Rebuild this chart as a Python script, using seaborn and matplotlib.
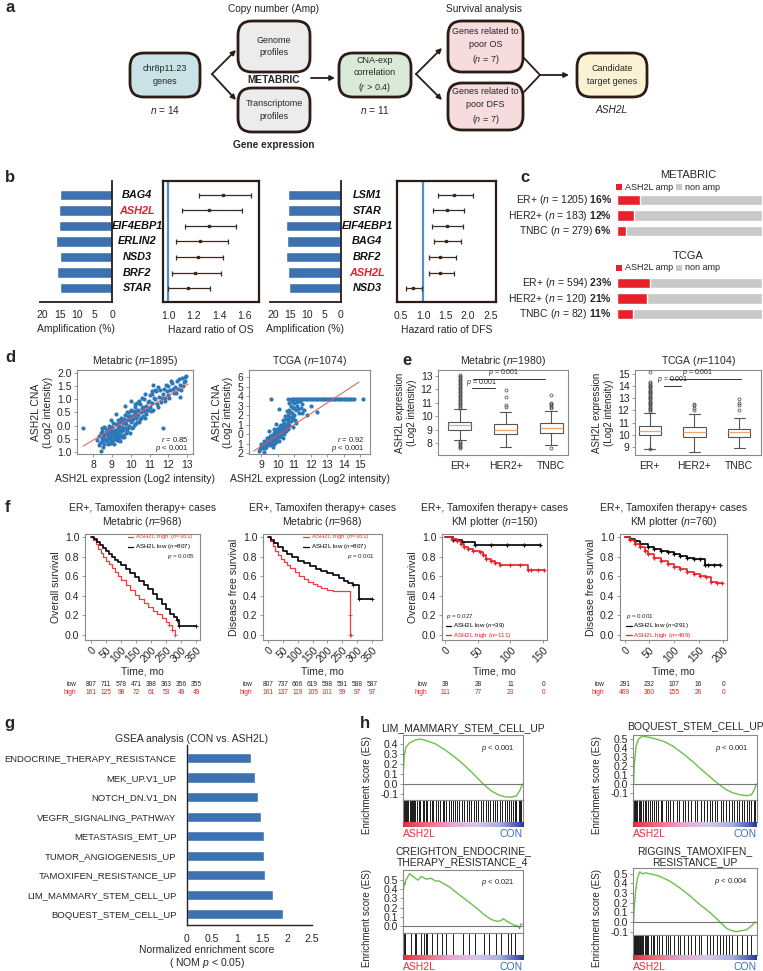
import numpy as np
import pandas as pd
import matplotlib
matplotlib.use('Agg')
import matplotlib.pyplot as plt
import seaborn as sns
from matplotlib.patches import FancyBboxPatch, Rectangle
from matplotlib.colors import LinearSegmentedColormap
from matplotlib.transforms import blended_transform_factory

# ---------------- data ----------------
# b : forest plots
os_genes = ['BAG4', 'ASH2L', 'EIF4EBP1', 'ERLIN2', 'NSD3', 'BRF2', 'STAR']
os_amp = [15.0, 15.1, 15.3, 16.0, 14.8, 15.6, 15.0]
os_hr = [1.43, 1.32, 1.32, 1.25, 1.23, 1.21, 1.155]
os_lo = [1.24, 1.11, 1.13, 1.065, 1.06, 1.03, 1.0]
os_hi = [1.645, 1.58, 1.53, 1.47, 1.43, 1.41, 1.33]
dfs_genes = ['LSM1', 'STAR', 'EIF4EBP1', 'BAG4', 'BRF2', 'ASH2L', 'NSD3']
dfs_amp = [15.6, 15.5, 16.2, 16.0, 16.2, 15.5, 15.3]
dfs_hr = [1.69, 1.53, 1.53, 1.51, 1.38, 1.38, 0.77]
dfs_lo = [1.33, 1.22, 1.2, 1.24, 1.13, 1.13, 0.61]
dfs_hi = [2.12, 1.92, 1.9, 1.85, 1.74, 1.69, 0.97]

# c : amplification frequency
c_groups = ['ER+', 'HER2+', 'TNBC']
c_meta_n = [1205, 183, 279]
c_meta_pct = [16, 12, 6]
c_tcga_n = [594, 120, 82]
c_tcga_pct = [23, 21, 11]

# d : CNA vs expression
meta_x = [8.2, 8.3, 8.35, 8.4, 8.45, 8.5, 8.5, 8.55, 8.6, 8.6, 8.65, 8.7, 8.7, 8.75, 8.8, 8.8, 8.85, 8.9, 8.9, 8.95,
          9.0, 9.0, 9.0, 9.05, 9.1, 9.1, 9.15, 9.2, 9.2, 9.25, 9.3, 9.3, 9.35, 9.4, 9.4, 9.45, 9.5, 9.5, 9.55, 9.6,
          9.6, 9.65, 9.7, 9.7, 9.75, 9.8, 9.8, 9.85, 9.9, 9.9, 10.0, 10.0, 10.05, 10.1, 10.1, 10.2, 10.2, 10.25, 10.3, 10.35,
          10.4, 10.4, 10.5, 10.5, 10.55, 10.6, 10.65, 10.7, 10.7, 10.8, 10.8, 10.9, 10.9, 11.0, 11.0, 11.1, 11.15, 11.2, 11.3, 11.35,
          11.4, 11.5, 11.55, 11.6, 11.7, 11.75, 11.8, 11.9, 12.0, 12.0, 12.1, 12.2, 12.3, 12.35, 12.45, 12.5, 12.6, 12.7, 12.75, 12.85,
          12.9, 11.8, 11.3, 10.0, 9.7, 7.45, 8.4, 11.7, 12.6, 11.2, 9.2, 8.6, 8.9, 9.3, 9.55, 9.05, 8.75, 9.45, 9.15, 8.95]
meta_y = [-0.55, -0.4, -0.65, -0.3, -0.5, -0.2, -0.6, -0.45, -0.35, -0.7, -0.1, -0.5, -0.25, -0.6, -0.4, -0.15, 0.0, -0.5, -0.3, -0.2,
          -0.6, -0.4, -0.05, 0.1, -0.3, -0.5, -0.15, 0.05, -0.4, -0.25, 0.2, -0.1, -0.45, 0.0, -0.3, 0.15, -0.2, 0.3, -0.05, 0.1,
          -0.35, 0.25, -0.1, 0.4, 0.05, 0.2, -0.2, 0.35, 0.0, 0.5, 0.15, 0.35, -0.1, 0.55, 0.25, 0.05, 0.45, 0.7, 0.3, 0.15,
          0.6, 0.4, 0.25, 0.8, 0.5, 0.65, 0.35, 1.0, 0.55, 0.75, 0.45, 0.9, 0.6, 0.7, 1.15, 0.85, 1.2, 0.6, 1.0, 1.3,
          0.8, 1.1, 1.35, 0.9, 1.2, 1.4, 1.05, 1.3, 1.15, 1.5, 1.35, 1.6, 1.25, 1.45, 1.7, 1.4, 1.55, 1.8, 1.5, 1.85,
          1.7, 0.95, 1.35, 0.95, 0.75, -0.1, -0.95, -0.1, 1.1, 1.55, 0.45, -0.05, -0.65, -0.55, -0.45, -0.2, -0.3, -0.6, -0.35, 0.2]
meta_x_more = [8.3, 8.45, 8.55, 8.65, 8.75, 8.8, 8.85, 8.9, 8.95, 9.05, 9.1, 9.15, 9.2, 9.25, 9.3, 9.35, 9.4, 9.45, 9.5, 9.55,
               9.6, 9.65, 9.7, 9.75, 9.8, 9.85, 9.9, 9.95, 10.0, 10.05, 10.1, 10.15, 10.2, 10.25, 10.3, 10.35, 10.45, 10.45,
               10.55, 10.6, 10.65, 10.75, 10.75, 10.85, 10.95, 11.05, 11.1, 11.25, 11.45, 11.45, 11.65, 11.85, 12.05,
               12.15, 12.25, 12.4, 12.55, 12.65, 12.8, 12.95]
meta_y_more = [-0.75, -0.1, -0.8, -0.55, -0.3, -0.7, -0.45, -0.1, -0.65, -0.35, -0.7, -0.5, -0.2, -0.55, -0.35, 0.05, -0.55,
               -0.15, -0.4, 0.2, -0.15, -0.45, 0.1, -0.3, 0.5, -0.1, 0.25, -0.3, 0.6, 0.2, -0.05, 0.4, 0.8, 0.05, 0.55, 0.85,
               0.15, 0.95, 0.3, 1.05, 0.7, 0.3, 1.2, 0.6, 0.95, 0.55, 1.3, 1.05, 0.7, 1.45, 1.05, 1.55, 1.05, 1.7, 1.4, 1.25,
               1.75, 1.35, 1.65, 1.9]
meta_fit_x = [7.47, 13.05]
meta_fit_y = [-0.78, 1.58]
tcga_x = [8.9, 9.0, 9.1, 9.15, 9.2, 9.3, 9.3, 9.4, 9.45, 9.5, 9.55, 9.6, 9.65, 9.7, 9.75, 9.8, 9.85, 9.9, 9.95, 10.0,
          10.0, 10.05, 10.1, 10.15, 10.2, 10.25, 10.3, 10.3, 10.35, 10.4, 10.4, 10.45, 10.5, 10.5, 10.55, 10.6, 10.6, 10.65, 10.7, 10.7,
          10.75, 10.8, 10.8, 10.85, 10.9, 10.9, 10.95, 11.0, 11.0, 11.1, 11.1, 11.2, 11.3, 11.4, 11.5, 11.6, 12.0, 11.8,
          9.2, 8.85, 9.6, 9.5, 10.1, 9.9, 12.4, 15.2, 9.1, 9.35, 9.7, 9.8, 10.2,
          10.6, 10.8, 10.9, 11.0, 11.1, 11.2, 11.3, 11.4, 11.5, 11.6, 11.7, 11.8, 11.9, 12.0, 12.1, 12.2, 12.3, 12.4, 12.5, 12.6,
          12.7, 12.8, 12.9, 13.0, 13.1, 13.2, 13.3, 13.4, 13.5, 13.6, 13.7, 13.8, 13.9, 14.0, 14.1, 14.2, 14.3, 14.4, 14.5, 14.6]
tcga_y = [-1.6, -1.3, -1.5, -1.0, -1.2, -0.8, -1.4, -1.0, -0.6, -0.9, -1.2, -0.5, -0.8, -0.3, -0.6, -1.0, -0.2, -0.5, 0.0, -0.3,
          0.3, -0.7, 0.1, 0.5, -0.2, 0.2, 0.8, -0.4, 0.4, 1.2, 0.0, 0.6, 1.6, 0.3, 0.9, 2.0, 1.3, 0.5, 2.5, 1.0,
          1.8, 3.0, 1.4, 2.2, 0.8, 2.8, 1.6, 3.3, 2.0, 2.5, 1.2, 3.0, 2.2, 2.8, 3.2, 2.5, 3.0, 2.0,
          -1.9, -1.8, 3.7, 0.3, 2.6, 1.1, 2.3, 3.7, -1.1, -0.4, -1.4, 0.5, 1.0,
          3.7, 3.7, 3.7, 3.7, 3.7, 3.7, 3.7, 3.7, 3.7, 3.7, 3.7, 3.7, 3.7, 3.7, 3.7, 3.7, 3.7, 3.7, 3.7, 3.7,
          3.7, 3.7, 3.7, 3.7, 3.7, 3.7, 3.7, 3.7, 3.7, 3.7, 3.7, 3.7, 3.7, 3.7, 3.7, 3.7, 3.7, 3.7, 3.7, 3.7]
tcga_x_more = [9.0, 9.1, 9.2, 9.25, 9.35, 9.4, 9.5, 9.55, 9.6, 9.65, 9.7, 9.75, 9.8, 9.85, 9.9, 9.95, 10.0, 10.05, 10.1,
               10.15, 10.2, 10.25, 10.3, 10.35, 10.4, 10.45, 10.5, 10.55, 10.6, 10.65, 10.7, 10.75, 10.85, 10.9, 11.0,
               11.05, 11.15, 11.25, 11.35, 11.45]
tcga_y_more = [-1.0, -1.2, -0.7, -1.5, -1.1, -0.4, -0.6, -0.2, -1.0, -0.1, -0.7, 0.1, -0.4, 0.3, -0.8, 0.5, 0.0, 0.6, -0.3,
               0.9, 0.3, 1.0, 0.1, 1.5, 0.7, 1.9, 1.0, 2.4, 0.8, 1.6, 3.3, 2.3, 3.5, 1.9, 2.7, 1.5, 3.4, 2.6, 3.5, 2.2]
tcga_fit_x = [8.54, 14.94]
tcga_fit_y = [-1.8, 5.5]

# e : expression by subtype (box summaries)
e_groups = ['ER+', 'HER2+', 'TNBC']
e_meta_med = [9.34, 8.97, 9.1]
e_meta_q1 = [9.0, 8.67, 8.75]
e_meta_q3 = [9.59, 9.4, 9.5]
e_meta_lo = [8.2, 7.7, 7.85]
e_meta_hi = [10.5, 10.3, 10.4]
e_meta_fliers = [[10.6, 10.7, 10.8, 10.9, 11.0, 11.1, 11.2, 11.3, 11.4, 11.5, 11.6, 11.7, 11.8, 11.9, 12.0, 12.1,
                  12.2, 12.3, 12.4, 12.5, 12.6, 12.7, 12.8, 12.9, 13.0, 13.1, 7.6, 7.7, 7.8, 7.9, 8.0, 8.1],
                 [11.95, 11.45, 10.8, 10.65],
                 [10.6, 10.7, 10.8, 10.9, 11.0, 11.6, 7.6]]
e_tcga_med = [10.3, 10.2, 10.2]
e_tcga_q1 = [10.0, 9.8, 9.8]
e_tcga_q3 = [10.75, 10.6, 10.5]
e_tcga_lo = [8.85, 8.6, 8.9]
e_tcga_hi = [11.8, 11.7, 11.4]
e_tcga_fliers = [[11.9, 12.0, 12.1, 12.2, 12.3, 12.4, 12.5, 12.6, 12.7, 12.8, 12.9, 13.0, 13.1, 13.2, 13.3, 13.4,
                  13.5, 13.6, 13.7, 13.8, 13.9, 14.0, 14.1, 14.2, 14.3, 15.1, 8.85],
                 [12.0, 12.2, 12.4, 12.5],
                 [12.0, 12.4, 12.6, 12.9]]

# f : Kaplan-Meier curves (time, survival)
km1_low_t = [0, 10, 20, 30, 40, 50, 60, 70, 80, 90, 100, 115, 130, 145, 160, 175, 190, 205, 220, 235, 250, 262, 275, 285, 292, 350]
km1_low_s = [1.0, 0.98, 0.95, 0.92, 0.89, 0.86, 0.83, 0.8, 0.77, 0.74, 0.71, 0.67, 0.63, 0.59, 0.55, 0.51, 0.47, 0.42, 0.37, 0.32, 0.27, 0.22, 0.18, 0.15, 0.09, 0.09]
km1_high_t = [0, 8, 16, 24, 32, 40, 50, 60, 70, 80, 90, 100, 115, 130, 145, 160, 175, 190, 205, 220, 235, 250, 260, 270, 278]
km1_high_s = [1.0, 0.97, 0.93, 0.88, 0.84, 0.8, 0.76, 0.72, 0.68, 0.64, 0.6, 0.56, 0.51, 0.46, 0.41, 0.37, 0.33, 0.29, 0.25, 0.21, 0.17, 0.13, 0.1, 0.05, 0.0]
km2_low_t = [0, 10, 20, 35, 50, 65, 80, 100, 120, 140, 160, 180, 200, 220, 240, 255, 270, 285, 305, 350]
km2_low_s = [1.0, 0.97, 0.94, 0.9, 0.86, 0.83, 0.8, 0.76, 0.73, 0.7, 0.67, 0.65, 0.63, 0.61, 0.58, 0.55, 0.53, 0.51, 0.37, 0.37]
km2_high_t = [0, 8, 16, 25, 35, 45, 55, 65, 75, 90, 105, 120, 135, 150, 165, 180, 200, 220, 275, 277, 280]
km2_high_s = [1.0, 0.96, 0.91, 0.86, 0.82, 0.78, 0.74, 0.71, 0.68, 0.64, 0.6, 0.57, 0.54, 0.52, 0.5, 0.48, 0.46, 0.45, 0.2, 0.0, 0.0]
km3_low_t = [0, 12, 25, 45, 70, 95, 120, 145]
km3_low_s = [1.0, 0.97, 0.95, 0.92, 0.92, 0.92, 0.92, 0.92]
km3_high_t = [0, 10, 18, 24, 28, 35, 43, 53, 58, 63, 70, 76, 84, 100, 115, 127, 132, 142, 152]
km3_high_s = [1.0, 0.98, 0.96, 0.93, 0.9, 0.88, 0.86, 0.85, 0.82, 0.78, 0.75, 0.73, 0.71, 0.71, 0.71, 0.66, 0.66, 0.66, 0.66]
km4_low_t = [0, 10, 20, 30, 47, 60, 73, 87, 100, 113, 127, 140, 152, 163, 170, 182, 193]
km4_low_s = [1.0, 0.98, 0.96, 0.93, 0.9, 0.88, 0.86, 0.85, 0.83, 0.81, 0.79, 0.78, 0.78, 0.71, 0.71, 0.71, 0.71]
km4_high_t = [0, 10, 20, 30, 40, 47, 60, 73, 87, 100, 113, 127, 140, 153, 165, 175, 187, 197]
km4_high_s = [1.0, 0.97, 0.93, 0.9, 0.86, 0.83, 0.79, 0.76, 0.72, 0.69, 0.67, 0.64, 0.62, 0.6, 0.59, 0.54, 0.53, 0.53]
risk1_low = [807, 711, 578, 471, 398, 363, 356, 355]
risk1_high = [161, 125, 98, 72, 61, 53, 49, 49]
risk2_low = [807, 737, 666, 619, 598, 591, 588, 587]
risk2_high = [161, 137, 119, 105, 101, 99, 97, 97]
risk3_low = [39, 28, 11, 0]
risk3_high = [111, 77, 23, 0]
risk4_low = [291, 232, 107, 16, 0]
risk4_high = [469, 360, 155, 26, 0]

# g : GSEA NES
g_sets = ['ENDOCRINE_THERAPY_RESISTANCE', 'MEK_UP.V1_UP', 'NOTCH_DN.V1_DN', 'VEGFR_SIGNALING_PATHWAY',
          'METASTASIS_EMT_UP', 'TUMOR_ANGIOGENESIS_UP', 'TAMOXIFEN_RESISTANCE_UP',
          'LIM_MAMMARY_STEM_CELL_UP', 'BOQUEST_STEM_CELL_UP']
g_nes = [1.28, 1.36, 1.42, 1.48, 1.54, 1.54, 1.56, 1.72, 1.92]

# h : running enrichment scores and hits
lim_x = [0, 0.005, 0.02, 0.05, 0.1, 0.14, 0.2, 0.27, 0.35, 0.43, 0.5, 0.58, 0.67, 0.74, 0.8, 0.86, 0.91, 0.95, 0.98, 1.0]
lim_y = [0.15, 0.28, 0.37, 0.41, 0.44, 0.45, 0.43, 0.4, 0.34, 0.27, 0.2, 0.11, 0.0, -0.07, -0.11, -0.13, -0.13, -0.12, -0.06, 0.0]
boq_x = [0, 0.005, 0.02, 0.04, 0.07, 0.12, 0.18, 0.25, 0.32, 0.4, 0.48, 0.56, 0.63, 0.69, 0.75, 0.81, 0.87, 0.92, 0.96, 0.985, 1.0]
boq_y = [0.0, 0.2, 0.42, 0.5, 0.53, 0.52, 0.5, 0.47, 0.42, 0.34, 0.25, 0.15, 0.07, 0.0, -0.06, -0.1, -0.12, -0.13, -0.12, -0.06, 0.0]
creig_x = [0, 0.005, 0.01, 0.02, 0.05, 0.08, 0.12, 0.15, 0.19, 0.23, 0.27, 0.3, 0.38, 0.46, 0.54, 0.62, 0.68, 0.74, 0.79,
           0.82, 0.84, 0.87, 0.9, 0.93, 0.96, 0.975, 0.985, 1.0]
creig_y = [0.4, 0.47, 0.45, 0.5, 0.57, 0.54, 0.5, 0.54, 0.51, 0.52, 0.49, 0.49, 0.43, 0.35, 0.27, 0.19, 0.12, 0.07, 0.05,
           0.06, 0.08, 0.05, 0.03, 0.01, 0.0, -0.03, 0.02, 0.02]
rig_x = [0, 0.005, 0.015, 0.03, 0.05, 0.07, 0.1, 0.13, 0.17, 0.22, 0.3, 0.38, 0.46, 0.54, 0.62, 0.68, 0.72, 0.76, 0.8,
         0.84, 0.88, 0.92, 0.95, 0.97, 0.985, 1.0]
rig_y = [0.0, 0.15, 0.3, 0.45, 0.52, 0.5, 0.51, 0.5, 0.49, 0.47, 0.42, 0.35, 0.27, 0.18, 0.1, 0.03, -0.02, -0.07, -0.09,
         -0.1, -0.09, -0.08, -0.05, -0.03, 0.0, -0.01]
lim_hits = [0.0, 0.01, 0.02, 0.03, 0.04, 0.05, 0.06, 0.07, 0.08, 0.09, 0.1, 0.11, 0.13, 0.14, 0.16, 0.17, 0.19, 0.2, 0.22, 0.24,
            0.25, 0.27, 0.29, 0.31, 0.33, 0.34, 0.36, 0.38, 0.4, 0.42, 0.43, 0.45, 0.47, 0.49, 0.51, 0.53, 0.55, 0.57, 0.59,
            0.61, 0.63, 0.65, 0.67, 0.69, 0.71, 0.73, 0.75, 0.77, 0.79, 0.81, 0.83, 0.85, 0.87, 0.89, 0.9, 0.92, 0.94, 0.95,
            0.97, 0.98, 0.99]
boq_hits = [0.0, 0.01, 0.015, 0.02, 0.03, 0.04, 0.05, 0.06, 0.08, 0.09, 0.1, 0.12, 0.13, 0.15, 0.17, 0.18, 0.2, 0.22, 0.23,
            0.26, 0.28, 0.3, 0.32, 0.35, 0.37, 0.4, 0.42, 0.44, 0.47, 0.5, 0.52, 0.55, 0.57, 0.6, 0.62, 0.64, 0.66, 0.68,
            0.71, 0.73, 0.75, 0.78, 0.8, 0.82, 0.84, 0.86, 0.88, 0.9, 0.92, 0.94, 0.96, 0.98, 0.99]
creig_hits = [0.005, 0.01, 0.015, 0.06, 0.1, 0.105, 0.15, 0.17, 0.19, 0.2, 0.24, 0.28, 0.32, 0.36, 0.42, 0.5, 0.55, 0.6,
              0.68, 0.72, 0.78, 0.82, 0.88, 0.9, 0.94]
rig_hits = [0.0, 0.005, 0.01, 0.015, 0.02, 0.025, 0.03, 0.035, 0.04, 0.05, 0.055, 0.06, 0.07, 0.08, 0.09, 0.1, 0.11, 0.12,
            0.14, 0.16, 0.17, 0.19, 0.21, 0.23, 0.26, 0.28, 0.3, 0.33, 0.36, 0.38, 0.41, 0.44, 0.47, 0.5, 0.53, 0.55, 0.6,
            0.62, 0.65, 0.68, 0.7, 0.73, 0.75, 0.78, 0.8, 0.84, 0.88, 0.92, 0.96]

# ---------------- style ----------------
sns.set_style('white')
plt.rcParams['font.family'] = ['Liberation Sans', 'DejaVu Sans']
plt.rcParams['mathtext.fontset'] = 'custom'
plt.rcParams['mathtext.rm'] = 'Liberation Sans'
plt.rcParams['mathtext.it'] = 'Liberation Sans:italic'
plt.rcParams['mathtext.bf'] = 'Liberation Sans:bold'
plt.rcParams['axes.unicode_minus'] = False

DARK = '#2b1d16'
BARBLUE = '#3d72b0'
RED = '#e8202a'
GRAYAX = '#8a8a8a'

W, H = 763, 971
fig = plt.figure(figsize=(W / 100, H / 100), dpi=100)


def px_ax(x0, y0, x1, y1):
    return fig.add_axes([x0 / W, 1 - y1 / H, (x1 - x0) / W, (y1 - y0) / H])


def ftext(x, y, s, **kw):
    fig.text(x / W, 1 - y / H, s, **kw)


def gray_frame(ax, lw=0.8):
    for s in ax.spines.values():
        s.set_visible(True)
        s.set_color(GRAYAX)
        s.set_linewidth(lw)
    ax.tick_params(length=2, width=0.6, color=GRAYAX, labelsize=7.5, pad=2,
                   bottom=True, left=True)


# panel letters
for lab, x, y in [('a', 5, 8), ('b', 5, 177), ('c', 520, 177), ('d', 5, 358), ('e', 402, 360),
                  ('f', 5, 507), ('g', 4, 723), ('h', 360, 723)]:
    ftext(x, y, lab, fontsize=12, fontweight='bold', va='center')

# ---------------- a : flow chart ----------------
ax = px_ax(0, 0, W, 160)
ax.set_xlim(0, W)
ax.set_ylim(160, 0)
ax.axis('off')


def rbox(x0, y0, x1, y1, fc, txt):
    ax.add_patch(FancyBboxPatch((x0, y0), x1 - x0, y1 - y0, boxstyle='round,pad=0,rounding_size=14',
                                fc=fc, ec=DARK, lw=2))
    ax.text((x0 + x1) / 2, (y0 + y1) / 2, txt, ha='center', va='center', fontsize=6.5,
            linespacing=1.45)


rbox(130, 53, 200, 97, '#c8e2e6', 'chr8p11.23\ngenes')
rbox(238, 21, 310, 72, '#ececec', 'Genome\nprofiles')
rbox(238, 88, 310, 132, '#ececec', 'Transcriptome\nprofiles')
rbox(339, 53, 411, 97, '#d9ebd8', 'CNA-exp\ncorrelation\n($\\it{r}$ > 0.4)')
rbox(448, 21, 523, 72, '#f6dcdc', 'Genes related to\npoor OS\n($\\it{n}$ = 7)')
rbox(448, 83, 523, 130, '#f6dcdc', 'Genes related to\npoor DFS\n($\\it{n}$ = 7)')
rbox(577, 53, 647, 97, '#fbf2d4', 'Candidate\ntarget genes')
for x, y, s, kw in [(274, 9, 'Copy number (Amp)', {}), (484, 9, 'Survival analysis', {}),
                    (274, 80, 'METABRIC', {'fontweight': 'bold'}), (274, 145, 'Gene expression', {'fontweight': 'bold'}),
                    (165, 110, '$\\it{n}$ = 14', {}), (375, 110, '$\\it{n}$ = 11', {}),
                    (612, 110, 'ASH2L', {'style': 'italic'})]:
    ax.text(x, y, s, ha='center', va='center', fontsize=7.3, **kw)
arrow = dict(arrowstyle='-|>', color=DARK, lw=1.3, mutation_scale=7, shrinkA=0, shrinkB=0)
for (xs, ys), (xe, ye) in [((212, 74), (236, 50)), ((212, 74), (236, 100)), ((311, 78), (335, 78)),
                           ((416, 74), (442, 48)), ((416, 74), (442, 100)), ((540, 75), (569, 75))]:
    ax.annotate('', xy=(xe, ye), xytext=(xs, ys), arrowprops=arrow)
ax.plot([523, 540, 523], [57, 75, 93], color=DARK, lw=1.3)

# ---------------- b : amplification + hazard ratios ----------------
row_y = [195 + 15.5 * i for i in range(7)]


def amp_axis(x0, x1, genes, amp, xmax):
    a = px_ax(x0, 181, x1, 302)
    sns.barplot(x=amp, y=genes, orient='h', color=BARBLUE, saturation=1, width=0.68, ax=a)
    a.set_xlim(xmax, 0)
    a.set_ylim(6.9, -0.9)
    a.set_yticks([])
    a.set_ylabel('')
    a.set_xticks([20, 15, 10, 5, 0])
    a.set_xticklabels(['20', '15', '10', '5', '0'], fontsize=7.5)
    a.set_xlabel('Amplification (%)', fontsize=7.5, labelpad=3)
    a.spines['top'].set_visible(False)
    a.spines['left'].set_visible(False)
    for s in ['right', 'bottom']:
        a.spines[s].set_color(DARK)
        a.spines[s].set_linewidth(1.3)
    a.tick_params(axis='x', pad=2)


def hr_axis(x0, x1, hr, lo, hi, xlim, ticks, labels, xlabel):
    a = px_ax(x0, 181, x1, 302)
    hr, lo, hi = np.array(hr), np.array(lo), np.array(hi)
    y = np.arange(len(hr))
    a.axvline(1.0, color='#4f8fd6', lw=1.6, zorder=1)
    a.errorbar(hr, y, xerr=[hr - lo, hi - hr], fmt='s', ms=2, color='#3a2a22', elinewidth=0.9,
               capsize=1.8, capthick=0.9, zorder=3)
    a.set_xlim(*xlim)
    a.set_ylim(6.9, -0.9)
    a.set_yticks([])
    a.set_xticks(ticks)
    a.set_xticklabels(labels, fontsize=7.5)
    a.set_xlabel(xlabel, fontsize=7.5, labelpad=3)
    a.tick_params(axis='x', pad=3)
    for s in a.spines.values():
        s.set_color(DARK)
        s.set_linewidth(1.6)


amp_axis(40, 112, os_genes, os_amp, 20.6)
hr_axis(163, 259, os_hr, os_lo, os_hi, (0.96, 1.71), [1.0, 1.2, 1.4, 1.6], ['1.0', '1.2', '1.4', '1.6'],
        'Hazard ratio of OS')
amp_axis(270, 341, dfs_genes, dfs_amp, 20.9)
hr_axis(397, 496, dfs_hr, dfs_lo, dfs_hi, (0.41, 2.63), [0.5, 1.0, 1.5, 2.0, 2.5],
        ['0.5', '1.0', '1.5', '2.0', '2.5'], 'Hazard ratio of DFS')
for genes, xc in [(os_genes, 137), (dfs_genes, 367)]:
    for g, y in zip(genes, row_y):
        ftext(xc, y, g, ha='center', va='center', fontsize=7.8, fontweight='bold', style='italic',
              color=RED if g == 'ASH2L' else '#111111')

# ---------------- c : amplification per subtype ----------------
for title, ns, pcts, ytitle, y0 in [('METABRIC', c_meta_n, c_meta_pct, 175, 193),
                                     ('TCGA', c_tcga_n, c_tcga_pct, 256, 276)]:
    ftext(688, ytitle, title, ha='center', va='center', fontsize=8)
    ly = ytitle + 12
    fig.patches.append(Rectangle((616 / W, 1 - (ly + 3) / H), 6 / W, 6 / H, transform=fig.transFigure,
                                 fc=RED, ec='none'))
    ftext(625, ly, 'ASH2L amp', va='center', fontsize=6.5)
    fig.patches.append(Rectangle((676 / W, 1 - (ly + 3) / H), 6 / W, 6 / H, transform=fig.transFigure,
                                 fc='#c8c8c8', ec='none'))
    ftext(685, ly, 'non amp', va='center', fontsize=6.5)
    a = px_ax(617, y0, 762, y0 + 45)
    sns.barplot(x=[100, 100, 100], y=c_groups, orient='h', color='#c8c8c8', saturation=1, width=0.69, ax=a)
    sns.barplot(x=pcts, y=c_groups, orient='h', color=RED, saturation=1, width=0.69, ax=a)
    a.set_xlim(0, 100)
    a.set_ylim(2.45, -0.45)
    a.axis('off')
    for i, (g, n, p) in enumerate(zip(c_groups, ns, pcts)):
        ftext(612, y0 + 7 + 15.5 * i, g + ' ($\\it{n}$ = ' + str(n) + ') $\\bf{' + str(p) + '\\%}$',
              ha='right', va='center', fontsize=7.5)

# ---------------- d : scatter ----------------
SCBLUE = '#2f78b7'
for (x0, x1), xs, ys, fx, fy, title, xlim, ylim, xt, yt, ytl, rtxt in [
        ((77, 193), meta_x + meta_x_more, meta_y + meta_y_more, meta_fit_x, meta_fit_y, 'Metabric ($\\it{n}$=1895)',
         (7.15, 13.3), (-1.08, 2.11),
         [8, 9, 10, 11, 12, 13], [-1, -0.5, 0, 0.5, 1, 1.5, 2], ['1.0', '0.5', '0.0', '0.5', '1.0', '1.5', '2.0'],
         '$\\it{r}$ = 0.85'),
        ((249, 370), tcga_x + tcga_x_more, tcga_y + tcga_y_more, tcga_fit_x, tcga_fit_y, 'TCGA ($\\it{n}$=1074)',
         (8.26, 15.6), (-2.1, 6.76),
         [9, 10, 11, 12, 13, 14, 15], [-2, -1, 0, 1, 2, 3, 4, 5, 6], ['2', '1', '0', '1', '2', '3', '4', '5', '6'],
         '$\\it{r}$ = 0.92')]:
    a = px_ax(x0, 370, x1, 454)
    sns.scatterplot(x=xs, y=ys, s=9, color=SCBLUE, linewidth=0, ax=a)
    sns.lineplot(x=fx, y=fy, color='#f05050', lw=0.7, ax=a)
    a.set_xlim(*xlim)
    a.set_ylim(*ylim)
    a.set_xticks(xt)
    a.set_xticklabels([str(v) for v in xt])
    a.set_yticks(yt)
    a.set_yticklabels(ytl)
    gray_frame(a)
    a.set_xlabel('ASH2L expression (Log2 intensity)', fontsize=7.5, labelpad=3)
    a.set_ylabel('ASH2L CNA\n(Log2 intensity)', fontsize=7.5, labelpad=3)
    a.set_title(title, fontsize=7.5, pad=4)
    a.text(0.96, 0.17, rtxt, transform=a.transAxes, ha='right', va='center', fontsize=5.5)
    a.text(0.96, 0.07, '$\\it{p}$ < 0.001', transform=a.transAxes, ha='right', va='center', fontsize=5.5)

# ---------------- e : box plots ----------------
for (x0, x1), med, q1, q3, lo, hi, fl, title, xlim, ylim, yt, brackets in [
        ((438, 568), e_meta_med, e_meta_q1, e_meta_q3, e_meta_lo, e_meta_hi, e_meta_fliers,
         'Metabric ($\\it{n}$=1980)', (-0.48, 2.37), (7.1, 13.45), [8, 9, 10, 11, 12, 13],
         [(0.29, 1.87, 12.8, 0.95), (0.26, 0.77, 12.1, 0.48)]),
        ((635, 761), e_tcga_med, e_tcga_q1, e_tcga_q3, e_tcga_lo, e_tcga_hi, e_tcga_fliers,
         'TCGA ($\\it{n}$=1104)', (-0.33, 2.49), (8.35, 15.3), [9, 10, 11, 12, 13, 14, 15],
         [(0.44, 2.04, 14.6, 1.07), (0.33, 0.71, 14.0, 0.51)])]:
    a = px_ax(x0, 370, x1, 455)
    stats = [dict(med=m, q1=a1, q3=a3, whislo=l, whishi=h, fliers=f, label=g)
             for m, a1, a3, l, h, f, g in zip(med, q1, q3, lo, hi, fl, e_groups)]
    a.bxp(stats, positions=[0, 1, 2], widths=0.5, patch_artist=True,
          boxprops=dict(facecolor='white', edgecolor='#555555', lw=0.8),
          medianprops=dict(color='#f2a46a', lw=0.9),
          whiskerprops=dict(color='#555555', lw=0.8),
          capprops=dict(color='#555555', lw=0.8),
          flierprops=dict(marker='o', ms=2.2, mfc='none', mec='#444444', mew=0.5))
    a.set_xlim(*xlim)
    a.set_ylim(*ylim)
    a.set_yticks(yt)
    a.set_yticklabels([str(v) for v in yt])
    gray_frame(a)
    a.tick_params(axis='x', length=0, pad=4)
    a.set_ylabel('ASH2L expression\n(Log2 intensity)', fontsize=7, labelpad=3)
    a.set_title(title, fontsize=7.5, pad=4)
    for bx0, bx1, by, tx in brackets:
        a.plot([bx0, bx1], [by, by], color='#333333', lw=0.7)
        a.text(tx, by + 0.04, '$\\it{p}$ = 0.001', ha='center', va='bottom', fontsize=5.0)

# ---------------- f : Kaplan-Meier ----------------
KMRED = '#f03c3c'
km_specs = [
    dict(box=(85, 200), xlim=(-20, 362), ticks=[0, 50, 100, 150, 200, 250, 300, 350],
         curves=[(km1_high_t, km1_high_s, KMRED, 0.9), (km1_low_t, km1_low_s, 'black', 1.2)],
         marks=False, risk=(risk1_low, risk1_high), ylabel='Overall survival',
         title='ER+, Tamoxifen therapy+ cases\nMetabric ($\\it{n}$=968)', low_x=76,
         keys=[(0.37, 0.975, KMRED, 'ASH2L high ($\\it{n}$=161)'), (0.37, 0.88, 'black', 'ASH2L low ($\\it{n}$=807)')],
         ptxt=(0.96, 0.785, '$\\it{p}$ = 0.005')),
    dict(box=(263, 382), xlim=(-17, 384), ticks=[0, 50, 100, 150, 200, 250, 300, 350],
         curves=[(km2_high_t, km2_high_s, KMRED, 0.9), (km2_low_t, km2_low_s, 'black', 1.2)],
         marks=False, risk=(risk2_low, risk2_high), ylabel='Disease free survival',
         title='ER+, Tamoxifen therapy+ cases\nMetabric ($\\it{n}$=968)', low_x=252,
         keys=[(0.34, 0.975, KMRED, 'ASH2L high ($\\it{n}$=161)'), (0.34, 0.88, 'black', 'ASH2L low ($\\it{n}$=807)')],
         ptxt=(0.94, 0.785, '$\\it{p}$ = 0.001')),
    dict(box=(442, 547), xlim=(-5, 156), ticks=[0, 50, 100, 150],
         curves=[(km3_low_t, km3_low_s, 'black', 1.2), (km3_high_t, km3_high_s, RED, 1.2)],
         marks=True, risk=(risk3_low, risk3_high), ylabel='Overall survival',
         title='ER+, Tamoxifen therapy+ cases\nKM plotter ($\\it{n}$=150)', low_x=427,
         keys=[(0.04, 0.135, 'black', 'ASH2L low ($\\it{n}$=39)'), (0.04, 0.045, RED, 'ASH2L high ($\\it{n}$=111)')],
         ptxt=(0.04, 0.225, '$\\it{p}$ = 0.027')),
    dict(box=(620, 727), xlim=(-10, 208), ticks=[0, 50, 100, 150, 200],
         curves=[(km4_low_t, km4_low_s, 'black', 1.2), (km4_high_t, km4_high_s, RED, 1.2)],
         marks=True, risk=(risk4_low, risk4_high), ylabel='Disease free survival',
         title='ER+, Tamoxifen therapy+ cases\nKM plotter ($\\it{n}$=760)', low_x=604,
         keys=[(0.06, 0.135, 'black', 'ASH2L low ($\\it{n}$=291)'), (0.06, 0.045, RED, 'ASH2L high ($\\it{n}$=469)')],
         ptxt=(0.06, 0.225, '$\\it{p}$ = 0.001')),
]
for sp in km_specs:
    x0, x1 = sp['box']
    a = px_ax(x0, 534, x1, 640)
    for t, s, c, lw in sp['curves']:
        a.step(t, s, where='post', color=c, lw=lw)
        if sp['marks']:
            a.plot(t[1:], s[1:], ls='none', marker='+', ms=3.2, mew=0.9, color=c)
        else:
            a.plot(t[-3:], s[-3:], ls='none', marker='+', ms=2.5, mew=0.6, color=c)
    a.set_xlim(*sp['xlim'])
    a.set_ylim(-0.05, 1.03)
    a.set_yticks([0, 0.2, 0.4, 0.6, 0.8, 1.0])
    a.set_yticklabels(['0.0', '0.2', '0.4', '0.6', '0.8', '1.0'])
    a.set_xticks(sp['ticks'])
    a.set_xticklabels([str(v) for v in sp['ticks']], rotation=45, ha='right', va='top', rotation_mode='anchor')
    gray_frame(a)
    a.set_ylabel(sp['ylabel'], fontsize=7.5, labelpad=3)
    for kx, ky, kc, kt in sp['keys']:
        a.plot([kx, kx + 0.05], [ky, ky], color=kc, lw=0.9, transform=a.transAxes)
        a.text(kx + 0.065, ky, kt, transform=a.transAxes, fontsize=4.5, va='center', color=kc)
    px_, py_, pt_ = sp['ptxt']
    a.text(px_, py_, pt_, transform=a.transAxes, fontsize=4.5, va='center',
           ha='right' if px_ > 0.5 else 'left')
    xc = (x0 + x1) / 2
    ftext(xc, 516, sp['title'], ha='center', va='center', fontsize=7.5, linespacing=1.15)
    ftext(xc, 672, 'Time, mo', ha='center', va='center', fontsize=7.5)
    tr = blended_transform_factory(a.transData, fig.transFigure)
    low, high = sp['risk']
    for t, lv, hv in zip(sp['ticks'], low, high):
        a.text(t, 1 - 684 / H, str(lv), transform=tr, ha='center', va='center', fontsize=4.8)
        a.text(t, 1 - 692 / H, str(hv), transform=tr, ha='center', va='center', fontsize=4.8, color=RED)
    ftext(sp['low_x'], 684, 'low', ha='right', va='center', fontsize=4.8)
    ftext(sp['low_x'], 692, 'high', ha='right', va='center', fontsize=4.8, color=RED)

# ---------------- g : NES bars ----------------
a = px_ax(187, 745, 312, 925)
sns.barplot(x=g_nes, y=g_sets, orient='h', color=BARBLUE, saturation=1, width=0.52, ax=a)
a.set_xlim(0, 2.5)
a.set_ylim(8.56, -0.67)
a.set_xticks([0, 0.5, 1, 1.5, 2, 2.5])
a.set_xticklabels(['0', '0.5', '1', '1.5', '2', '2.5'], fontsize=7.5)
a.tick_params(axis='y', labelsize=6.8, pad=4)
a.tick_params(axis='x', pad=3)
a.set_ylabel('')
a.spines['top'].set_visible(False)
a.spines['right'].set_visible(False)
for s in ['left', 'bottom']:
    a.spines[s].set_color('#222222')
    a.spines[s].set_linewidth(1.0)
ftext(192, 739, 'GSEA analysis (CON vs. ASH2L)', ha='center', va='center', fontsize=7.5)
ftext(207, 950, 'Normalized enrichment score', ha='center', va='center', fontsize=7.5)
ftext(207, 963, '( NOM $\\it{p}$ < 0.05)', ha='center', va='center', fontsize=7.5)

# ---------------- h : GSEA enrichment plots ----------------
gsea_cmap = LinearSegmentedColormap.from_list(
    'gsea', ['#e0303c', '#ee7080', '#e8a8d0', '#d8c8e8', '#a8b0e0', '#2838a0'])
h_specs = [
    dict(x=(403, 523), es=(735, 800), hit=(800, 822), cb=(822, 827), lab_y=834, xs=lim_x, ys=lim_y, hits=lim_hits,
         ylim=(-0.16, 0.49), yt=[-0.1, 0, 0.1, 0.2, 0.3, 0.4], title='LIM_MAMMARY_STEM_CELL_UP', ty=728,
         p='$\\it{p}$ < 0.001', yl_x=367, yl_y=785),
    dict(x=(633, 757), es=(735, 800), hit=(800, 822), cb=(822, 827), lab_y=834, xs=boq_x, ys=boq_y, hits=boq_hits,
         ylim=(-0.178, 0.544), yt=[-0.1, 0, 0.1, 0.2, 0.3, 0.4, 0.5], title='BOQUEST_STEM_CELL_UP', ty=727,
         p='$\\it{p}$ < 0.001', yl_x=597, yl_y=785),
    dict(x=(403, 523), es=(870, 933), hit=(933, 955), cb=(955, 960), lab_y=967, xs=creig_x, ys=creig_y,
         hits=creig_hits, ylim=(-0.076, 0.61), yt=[0, 0.1, 0.2, 0.3, 0.4, 0.5],
         title='CREIGHTON_ENDOCRINE_\nTHERAPY_RESISTANCE_4', ty=857, p='$\\it{p}$ < 0.021', yl_x=367, yl_y=918),
    dict(x=(633, 757), es=(868, 935), hit=(935, 955), cb=(955, 960), lab_y=967, xs=rig_x, ys=rig_y,
         hits=rig_hits, ylim=(-0.135, 0.56), yt=[-0.1, 0, 0.1, 0.2, 0.3, 0.4, 0.5],
         title='RIGGINS_TAMOXIFEN_\nRESISTANCE_UP', ty=857, p='$\\it{p}$ < 0.004', yl_x=597, yl_y=918),
]
for sp in h_specs:
    x0, x1 = sp['x']
    a = px_ax(x0, sp['es'][0], x1, sp['es'][1])
    sns.lineplot(x=sp['xs'], y=sp['ys'], color='#6cc04a', lw=1.0, ax=a, sort=False)
    a.axhline(0, color='#777777', lw=0.8)
    a.set_xlim(-0.005, 1.005)
    a.set_ylim(*sp['ylim'])
    a.set_xticks([])
    a.set_yticks(sp['yt'])
    a.set_yticklabels(['%.1f' % v if v != 0 else '0.0' for v in sp['yt']])
    gray_frame(a)
    a.tick_params(axis='y', labelsize=7.5, pad=1.5)
    a.text(0.93, 0.8, sp['p'], transform=a.transAxes, ha='right', va='center', fontsize=5.5)
    hb = px_ax(x0, sp['hit'][0], x1, sp['hit'][1])
    hb.vlines(sp['hits'], 0, 1, color='#1a1a1a', lw=0.7)
    hb.set_xlim(-0.005, 1.005)
    hb.set_ylim(0, 1)
    hb.set_xticks([])
    hb.set_yticks([])
    gray_frame(hb)
    cb = px_ax(x0, sp['cb'][0], x1, sp['cb'][1])
    cb.imshow(np.linspace(0, 1, 256)[None, :], aspect='auto', cmap=gsea_cmap, extent=[0, 1, 0, 1])
    cb.axis('off')
    ftext((x0 + x1) / 2, sp['ty'], sp['title'], ha='center', va='center', fontsize=7.5, linespacing=1.15)
    ftext(x0, sp['lab_y'], 'ASH2L', ha='left', va='center', fontsize=7.5, color='#e8303a')
    ftext(x1, sp['lab_y'], 'CON', ha='right', va='center', fontsize=7.5, color='#3a6fc0')
    ftext(sp['yl_x'], sp['yl_y'], 'Enrichment score (ES)', ha='center', va='center', rotation=90, fontsize=7)

fig.savefig('out.png', dpi=100)
